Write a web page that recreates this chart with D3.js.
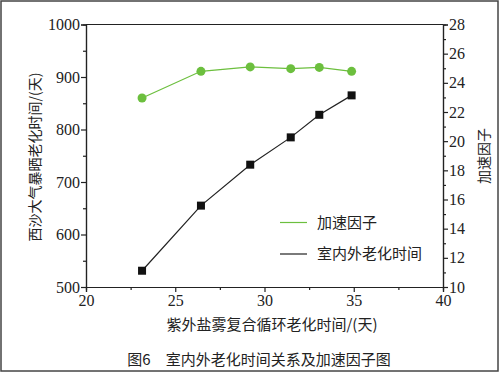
<!DOCTYPE html>
<html>
<head>
<meta charset="utf-8">
<script src="https://cdn.jsdelivr.net/npm/d3@7"></script>
<style>
  body { margin: 0; background: #fff; }
</style>
</head>
<body>
<svg id="chart" width="500" height="373"></svg>
<script>
// data
const saltFogDays = [23.14, 26.44, 29.2, 31.47, 33.07, 34.88];
const outdoorDays = [531, 655, 733, 785, 828, 865];
const accelFactor = [22.96, 24.79, 25.09, 24.97, 25.06, 24.79];

const xTicks = [20, 25, 30, 35, 40];
const yLeftTicks = [500, 600, 700, 800, 900, 1000];
const yRightTicks = [10, 12, 14, 16, 18, 20, 22, 24, 26, 28];

const SERIF = '"Liberation Serif", "DejaVu Serif", serif';
const CJK = '"Noto Sans CJK SC", sans-serif';

const svg = d3.select("#chart");
const margin = { top: 24.5, right: 57, bottom: 86, left: 86 },
    width = 500 - margin.left - margin.right,
    height = 373 - margin.top - margin.bottom;

// outer frame
svg.append("rect")
    .attr("x", 1).attr("y", 1).attr("width", 497).attr("height", 370)
    .attr("fill", "none").attr("stroke", "#444").attr("stroke-width", 1.5);

const x = d3.scaleLinear().domain([20, 40]).range([0, width]);
const yL = d3.scaleLinear().domain([500, 1000]).range([height, 0]);
const yR = d3.scaleLinear().domain([10, 28]).range([height, 0]);

const g = svg.append("g")
    .attr("transform", `translate(${margin.left}, ${margin.top})`);

// top border of the box
g.append("line")
    .attr("x1", 0).attr("x2", width).attr("y1", 0).attr("y2", 0)
    .attr("stroke", "#222").attr("stroke-width", 1.2);

function styleAxis(sel) {
    sel.select(".domain").attr("stroke", "#222").attr("stroke-width", 1.2);
    sel.selectAll(".tick line").attr("stroke", "#222").attr("stroke-width", 1.2);
    sel.selectAll("text")
        .style("font-family", SERIF)
        .style("font-size", "16px")
        .style("fill", "#222");
}

// minor ticks
const minor = (ax, vals) => ax.tickValues(vals).tickSize(3).tickFormat("");
g.append("g").attr("transform", `translate(0, ${height})`)
    .call(minor(d3.axisBottom(x), [22.5, 27.5, 32.5, 37.5])).call(styleAxis);
g.append("g")
    .call(minor(d3.axisLeft(yL), [550, 650, 750, 850, 950])).call(styleAxis);
g.append("g").attr("transform", `translate(${width}, 0)`)
    .call(minor(d3.axisRight(yR), d3.range(11, 28, 2))).call(styleAxis);

// major axes
g.append("g").attr("transform", `translate(0, ${height})`)
    .call(d3.axisBottom(x).tickValues(xTicks).tickSize(5).tickPadding(3).tickFormat(d3.format("d")))
    .call(styleAxis);
g.append("g")
    .call(d3.axisLeft(yL).tickValues(yLeftTicks).tickSize(5).tickPadding(1).tickFormat(d3.format("d")))
    .call(styleAxis);
g.append("g").attr("transform", `translate(${width}, 0)`)
    .call(d3.axisRight(yR).tickValues(yRightTicks).tickSize(5).tickPadding(1).tickFormat(d3.format("d")))
    .call(styleAxis);

// black series: outdoor aging time (left axis)
const lineL = d3.line().x((d, i) => x(saltFogDays[i])).y(d => yL(d));
g.append("path").datum(outdoorDays)
    .attr("fill", "none").attr("stroke", "#222").attr("stroke-width", 1.2)
    .attr("d", lineL);
g.selectAll(".sq").data(outdoorDays).enter().append("rect")
    .attr("x", (d, i) => x(saltFogDays[i]) - 4)
    .attr("y", d => yL(d) - 4)
    .attr("width", 8).attr("height", 8)
    .attr("fill", "#111");

// green series: acceleration factor (right axis)
const lineR = d3.line().x((d, i) => x(saltFogDays[i])).y(d => yR(d));
g.append("path").datum(accelFactor)
    .attr("fill", "none").attr("stroke", "#6cbf3e").attr("stroke-width", 1.2)
    .attr("d", lineR);
g.selectAll(".dot").data(accelFactor).enter().append("circle")
    .attr("cx", (d, i) => x(saltFogDays[i]))
    .attr("cy", d => yR(d))
    .attr("r", 4.5)
    .attr("fill", "#6cbf3e");

// legend
const legend = [
    { label: "加速因子", color: "#6cbf3e", y: 222.5 },
    { label: "室内外老化时间", color: "#222", y: 254 }
];
legend.forEach(l => {
    svg.append("line")
        .attr("x1", 280).attr("x2", 307).attr("y1", l.y).attr("y2", l.y)
        .attr("stroke", l.color).attr("stroke-width", 1.2);
    svg.append("text")
        .attr("x", 317).attr("y", l.y).attr("dy", "0.35em")
        .style("font-family", CJK).style("fill", "#222")
        .style("font-size", "15px").text(l.label);
});

// axis titles
const title = (t, size) => svg.append("text")
    .attr("text-anchor", "middle").attr("dy", "0.35em")
    .style("font-family", CJK).style("fill", "#222")
    .style("font-size", size).text(t);

title("西沙大气暴晒老化时间/(天)", "14px")
    .attr("transform", "translate(35, 157) rotate(-90)");
title("加速因子", "14px")
    .attr("transform", "translate(484, 156) rotate(-90)");
title("紫外盐雾复合循环老化时间/(天)", "15px")
    .attr("x", 272).attr("y", 325);

// caption
title("图6　室内外老化时间关系及加速因子图", "15px")
    .attr("x", 259).attr("y", 360);
</script>
</body>
</html>
